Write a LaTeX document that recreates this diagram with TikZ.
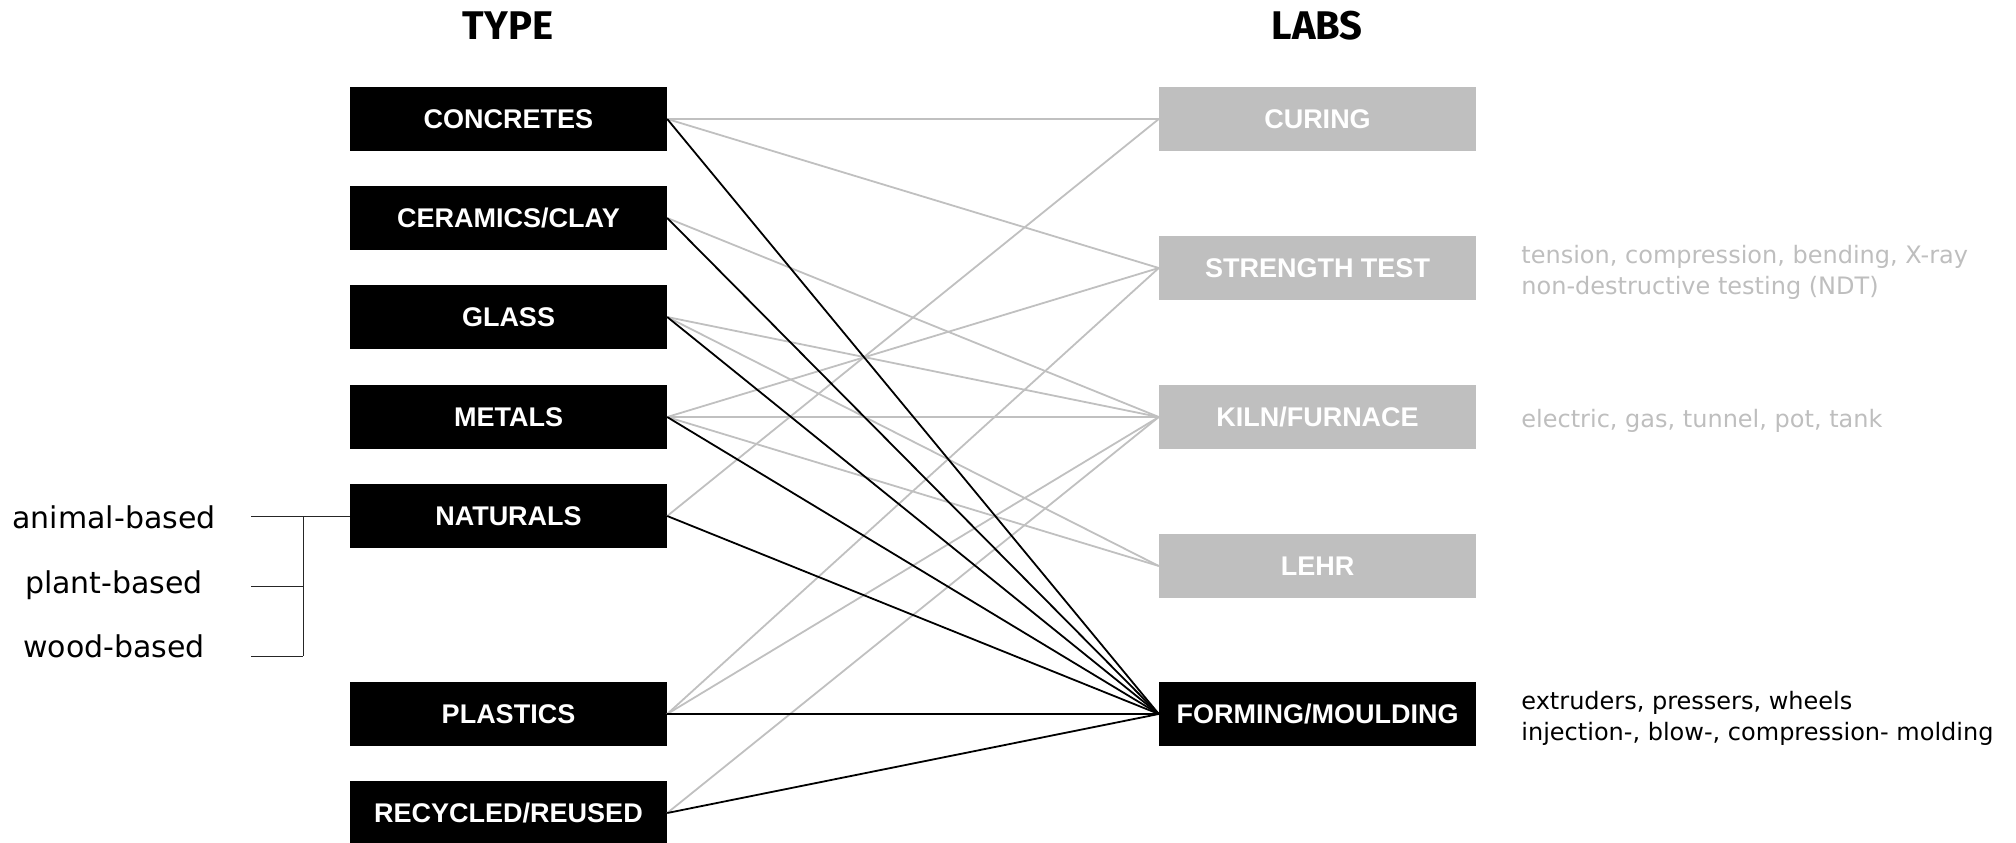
\documentclass[tikz,border=0pt]{standalone}
\usepackage{fontspec}
\setmainfont{DejaVu Sans}
\newfontfamily\boxfont{Liberation Sans}
\newfontfamily\headfont{Fira Sans}
\usetikzlibrary{positioning}
\definecolor{LabGray}{HTML}{BFBFBF}
\definecolor{LinkGray}{HTML}{C0C0C0}
\definecolor{NoteGray}{HTML}{BEBEBE}

\begin{document}
\begin{tikzpicture}[x=1pt,y=-1pt,
  head/.style={font=\headfont\bfseries\fontsize{40}{40}\selectfont},
  typebox/.style={fill=black,text=white,minimum width=317pt,minimum height=64pt,
    inner sep=0pt,font=\boxfont\bfseries\fontsize{27}{27}\selectfont},
  labbox/.style={typebox,fill=LabGray},
  note/.style={anchor=west,align=left,inner sep=0pt,yshift=-4pt,font=\fontsize{24}{31}\selectfont},
  sublabel/.style={anchor=base,inner sep=0pt,font=\fontsize{30}{30}\selectfont},
  link/.style={LinkGray,line width=1.8pt},
  mainlink/.style={black,line width=1.8pt},
  brace/.style={black!85,line width=1pt}]
  \useasboundingbox (0,0) rectangle (2016,843);
  % column heads
  \node[head] (typehead) at (508,26) {TYPE};
  \node[head] (labhead) at (1317,26) {LABS};
  % material types
  \foreach \n/\y/\lab in {conc/119/CONCRETES,cer/218/{CERAMICS/CLAY},gla/317/GLASS,
     met/417/METALS,nat/516/NATURALS,pla/714/PLASTICS,rec/813/{RECYCLED/REUSED}}{
     \node[typebox] (\n) at (508.5,\y) {\lab};}
  % labs
  \foreach \n/\y/\lab in {cur/119/CURING,str/268/STRENGTH TEST,kiln/417/{KILN/FURNACE},lehr/566/LEHR}{
     \node[labbox] (\n) at (1317.5,\y) {\lab};}
  \node[typebox] (form) at (1317.5,714) {FORMING/MOULDING};
  % lab notes
  \node[note,text=NoteGray,right=45pt of str] (strnote)
     {tension, compression, bending, X-ray\\non-destructive testing (NDT)};
  \node[note,text=NoteGray,right=45pt of kiln] (kilnnote) {electric, gas, tunnel, pot, tank};
  \node[note,right=45pt of form] (formnote)
     {extruders, pressers, wheels\\injection-, blow-, compression- molding};
  % naturals split
  \foreach \n/\y/\lab in {animal/528/animal-based,plant/593/plant-based,wood/657/wood-based}{
     \node[sublabel] (\n) at (114,\y) {\lab};}
  \coordinate (b1) at (251,516);
  \coordinate (b2) at (251,586);
  \coordinate (b3) at (251,656);
  \coordinate (btop) at (303,516);
  \coordinate (bbot) at (303,656);
  \draw[brace] (b1) -- (nat.west);
  \draw[brace] (btop) -- (bbot);
  \foreach \c in {b2,b3}{\draw[brace] (\c) -- (\c -| btop);}
  % links
  \foreach \a/\b in {conc/cur,conc/str,cer/kiln,gla/kiln,gla/lehr,met/str,met/kiln,
     met/lehr,nat/cur,pla/str,pla/kiln,rec/kiln}{
     \draw[link] (\a.east) -- (\b.west);}
  \foreach \a in {conc,cer,gla,met,nat,pla,rec}{
     \draw[mainlink] (\a.east) -- (form.west);}
\end{tikzpicture}
\end{document}
